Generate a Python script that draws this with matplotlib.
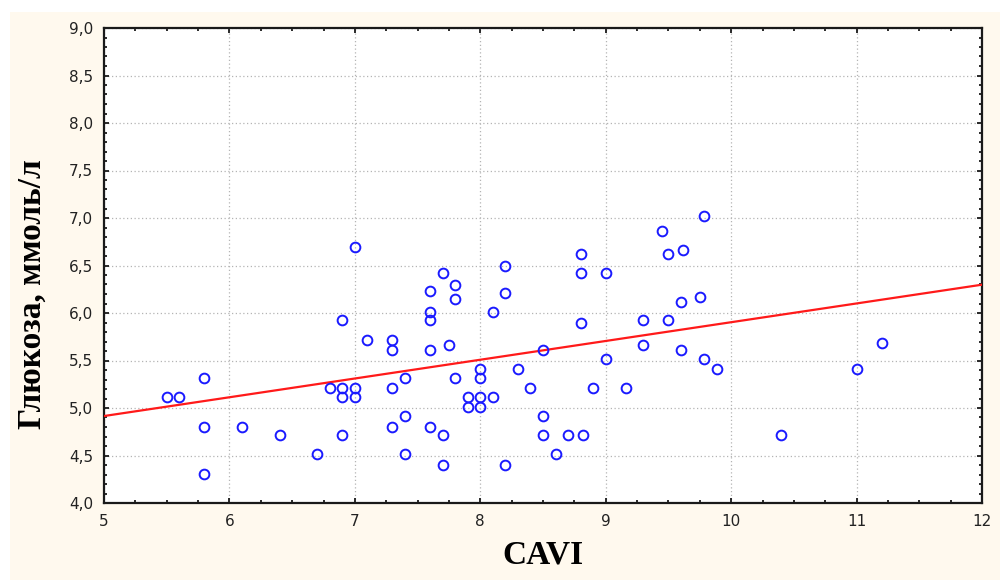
import matplotlib
matplotlib.use("Agg")
import matplotlib.pyplot as plt
from matplotlib.patches import Rectangle
from matplotlib.ticker import MultipleLocator, FuncFormatter
import numpy as np

# CAVI vs. fasting glucose (mmol/l)
cavi = [5.5, 5.6, 5.8, 5.8, 5.8, 6.1, 6.4, 6.7, 6.8, 6.9, 6.9, 6.9, 6.9,
        7.0, 7.0, 7.0, 7.1, 7.3, 7.3, 7.3, 7.3, 7.4, 7.4, 7.4,
        7.6, 7.6, 7.6, 7.6, 7.6, 7.7, 7.7, 7.7, 7.75, 7.8, 7.8, 7.8,
        7.9, 7.9, 8.0, 8.0, 8.0, 8.0, 8.1, 8.1, 8.2, 8.2, 8.2,
        8.3, 8.4, 8.5, 8.5, 8.5, 8.6, 8.7, 8.82, 8.8, 8.8, 8.8, 8.9,
        9.0, 9.0, 9.16, 9.3, 9.3, 9.45, 9.5, 9.5, 9.62, 9.6, 9.6,
        9.75, 9.78, 9.78, 9.89, 10.4, 11.0, 11.2]
glucose = [5.12, 5.12, 5.32, 4.80, 4.31, 4.80, 4.72, 4.52, 5.21, 5.93, 5.21, 5.12, 4.72,
           6.70, 5.21, 5.12, 5.72, 5.72, 5.61, 5.21, 4.80, 5.32, 4.92, 4.52,
           6.23, 6.01, 5.93, 5.61, 4.80, 6.42, 4.72, 4.40, 5.66, 6.30, 6.15, 5.32,
           5.12, 5.01, 5.41, 5.32, 5.12, 5.01, 6.01, 5.12, 6.50, 6.21, 4.40,
           5.41, 5.21, 5.61, 4.92, 4.72, 4.52, 4.72, 4.72, 6.62, 6.42, 5.90, 5.21,
           6.42, 5.52, 5.21, 5.93, 5.66, 6.86, 6.62, 5.93, 6.66, 6.12, 5.61,
           6.17, 7.02, 5.52, 5.41, 4.72, 5.41, 5.68]

# Linear regression line
fit_intercept = 3.928
fit_slope = 0.1975

x_ticks = [5, 6, 7, 8, 9, 10, 11, 12]
y_ticks = [4.0, 4.5, 5.0, 5.5, 6.0, 6.5, 7.0, 7.5, 8.0, 8.5, 9.0]

fig = plt.figure(figsize=(10, 5.8), dpi=100, facecolor="white")

# cream panel behind the plot
bg = fig.add_axes([0.0, 0.0, 1.0, 1.0], zorder=-10)
bg.set_xlim(0, 1000)
bg.set_ylim(580, 0)
bg.axis("off")
bg.add_patch(Rectangle((10, 12), 990, 568, facecolor="#fff9ee", edgecolor="none"))

ax = fig.add_axes([0.104, 77 / 580, 0.878, 475 / 580], zorder=1)
ax.set_facecolor("white")

ax.set_xlim(x_ticks[0], x_ticks[-1])
ax.set_ylim(y_ticks[0], y_ticks[-1])
ax.set_xticks(x_ticks)
ax.set_yticks(y_ticks)
ax.xaxis.set_minor_locator(MultipleLocator(0.25))
ax.yaxis.set_minor_locator(MultipleLocator(0.1))
ax.yaxis.set_major_formatter(FuncFormatter(lambda v, p: f"{v:.1f}".replace(".", ",")))
ax.xaxis.set_major_formatter(FuncFormatter(lambda v, p: f"{v:.0f}"))

ax.grid(True, which="major", color="#b4b4b4", linestyle=(0, (1, 2)), linewidth=0.9)
ax.set_axisbelow(True)

for s in ax.spines.values():
    s.set_linewidth(1.6)
    s.set_color("#1a1a1a")

ax.tick_params(which="both", direction="in", top=True, right=True,
               color="#1a1a1a", width=1.3)
ax.tick_params(which="major", length=3.5, labelsize=11, pad=8,
               labelcolor="#222222")
ax.tick_params(which="minor", length=2.2)
for lab in ax.get_xticklabels() + ax.get_yticklabels():
    lab.set_family("DejaVu Sans")

xs = np.array([x_ticks[0], x_ticks[-1]], dtype=float)
ax.plot(xs, fit_intercept + fit_slope * xs, color="#ff1a1a", linewidth=1.6,
        zorder=3)

ax.plot(cavi, glucose, linestyle="none", marker="o", markersize=7,
        markerfacecolor="none", markeredgecolor="#1a1aff",
        markeredgewidth=1.4, zorder=4)

ax.set_xlabel("CAVI", family="Liberation Serif", fontweight="bold",
              fontsize=24)
ax.set_ylabel("Глюкоза, ммоль/л", family="Liberation Serif",
              fontweight="bold", fontsize=24)
ax.yaxis.set_label_coords(-0.064, 0.44)
ax.xaxis.set_label_coords(0.5, -0.077)

fig.savefig("out.png", dpi=100, facecolor=fig.get_facecolor())
